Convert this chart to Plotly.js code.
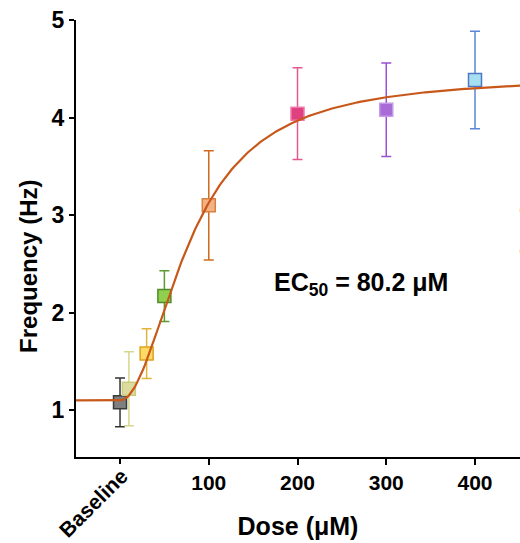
<!DOCTYPE html>
<html>
<head>
<meta charset="utf-8">
<script src="https://cdn.plot.ly/plotly-3.0.1.min.js"></script>
<style>html,body{margin:0;padding:0;background:#fff;}#chart{width:520px;height:543px;}</style>
</head>
<body>
<div id="chart"></div>
<script>
// Data
var doses = [0, 10, 30, 50, 100, 200, 300, 400];
var freqMean = [1.08, 1.22, 1.58, 2.17, 3.10, 4.04, 4.08, 4.385];
var freqErr = [0.25, 0.38, 0.255, 0.26, 0.56, 0.47, 0.48, 0.50];
var fillColors = ['#7f7f7f', '#dcdc9e', '#ffd966', '#8fd14f', '#f4b183', '#e0407f', '#a86bd8', '#a6e0f0'];
var edgeColors = ['#3a3a3a', '#cccc80', '#dca41c', '#4f8a2a', '#d9803f', '#f07aac', '#c39be8', '#4f78c4'];
var errColors = ['#333333', '#d6d68c', '#dfb43a', '#5a9a30', '#d2691e', '#e2588f', '#9d4fd2', '#5b86d8'];
var doseTickVals = [100, 200, 300, 400];
var doseTickText = ['100', '200', '300', '400'];
var baselineTickVals = [0];
var baselineLabel = 'Baseline';
var freqTickVals = [1, 2, 3, 4, 5];
// Hill fit parameters (EC50 shown on the chart)
var fitBottom = 1.1, fitTop = 4.43, fitEC50 = 80.2, fitHill = 2.0;
var fitX = [];
for (var d = -50; d <= 452; d += 2) fitX.push(d);
var fitY = fitX.map(function (x) {
  return x <= 0 ? fitBottom : fitBottom + (fitTop - fitBottom) / (1 + Math.pow(fitEC50 / x, fitHill));
});

var traces = [];
for (var i = 0; i < doses.length; i++) {
  traces.push({
    x: [doses[i]], y: [freqMean[i]], type: 'scatter', mode: 'markers',
    marker: {symbol: 'square', size: 13, color: fillColors[i], line: {color: edgeColors[i], width: 1.5}},
    error_y: {type: 'data', array: [freqErr[i]], visible: true, color: errColors[i], thickness: 1.5, width: 5},
    showlegend: false, hoverinfo: 'x+y', cliponaxis: false
  });
}
traces.push({x: fitX, y: fitY, type: 'scatter', mode: 'lines',
  line: {color: '#c8581a', width: 2.2}, showlegend: false, hoverinfo: 'skip'});
// invisible trace to activate the second x axis (Baseline tick)
traces.push({x: [0], y: [1.1], xaxis: 'x2', yaxis: 'y', type: 'scatter', mode: 'markers',
  marker: {opacity: 0}, showlegend: false, hoverinfo: 'skip'});

var fam = 'Liberation Sans, Arial, sans-serif';
var xRange = [-49.6, 450.7];
var layout = {
  width: 520, height: 543,
  margin: {l: 76, r: 0, t: 20, b: 86},
  paper_bgcolor: '#fff', plot_bgcolor: '#fff',
  font: {family: fam, color: '#000'},
  xaxis: {
    range: xRange, tickvals: doseTickVals, ticktext: doseTickText, tickangle: 0,
    showgrid: false, zeroline: false, showline: true, linecolor: '#000', linewidth: 2,
    ticks: 'outside', ticklen: 6, tickwidth: 2, tickcolor: '#000',
    tickfont: {family: fam, size: 21, color: '#000', weight: 'bold'},
    title: {text: '<b>Dose (μM)</b>', font: {family: fam, size: 25, color: '#000'}, standoff: 24}
  },
  xaxis2: {
    range: xRange, overlaying: 'x', side: 'bottom', anchor: 'y',
    tickvals: baselineTickVals, showticklabels: false,
    showgrid: false, zeroline: false, showline: false,
    ticks: 'outside', ticklen: 6, tickwidth: 2, tickcolor: '#000'
  },
  yaxis: {
    range: [0.52, 5.0], tickvals: freqTickVals,
    showgrid: false, zeroline: false, showline: true, linecolor: '#000', linewidth: 2,
    ticks: 'outside', ticklen: 5, tickwidth: 2, tickcolor: '#000',
    tickfont: {family: fam, size: 23, color: '#000', weight: 'bold'}
  },
  annotations: [
    {text: '<b>Frequency (Hz)</b>', xref: 'paper', yref: 'paper', x: 0, y: 0.435, xanchor: 'center', yanchor: 'middle',
     xshift: -47, textangle: -90, showarrow: false, font: {family: fam, size: 24, color: '#000'}},
    {text: '<b>' + baselineLabel + '</b>', xref: 'x', yref: 'paper', x: -31, y: 0, xanchor: 'center', yanchor: 'middle',
     yshift: -46, textangle: -45, showarrow: false, font: {family: fam, size: 21, color: '#000'}},
    {text: '<b>EC<sub>50</sub> = 80.2 μM</b>', xref: 'x', yref: 'y', x: 272, y: 2.29,
     showarrow: false, font: {family: fam, size: 25, color: '#000'}},
    {text: '<b>V<sub>m</sub> (mV)</b>', xref: 'paper', yref: 'paper', x: 1, y: 0.366, xanchor: 'left', yanchor: 'bottom',
     xshift: -6, textangle: -90, showarrow: false, font: {family: fam, size: 24, color: '#000'}}
  ]
};
Plotly.newPlot('chart', traces, layout, {displayModeBar: false, staticPlot: true});
</script>
</body>
</html>
